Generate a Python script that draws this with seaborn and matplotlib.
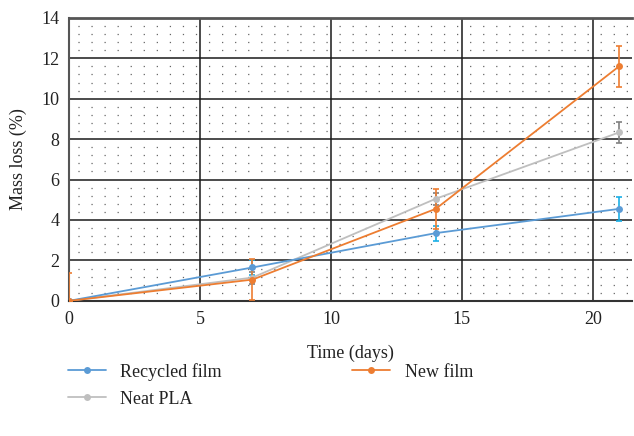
import numpy as np
import pandas as pd
import matplotlib
matplotlib.use("Agg")
import matplotlib.pyplot as plt
import seaborn as sns
from matplotlib.ticker import MultipleLocator
from matplotlib.lines import Line2D

days = [0, 7, 14, 21]
recycled = [0.0, 1.65, 3.35, 4.55]
recycled_err = [0.0, 0.35, 0.37, 0.6]
new_film = [0.0, 1.05, 4.55, 11.6]
new_film_err = [1.4, 1.0, 1.0, 1.0]
neat_pla = [0.0, 1.15, 5.05, 8.33]
neat_pla_err = [0.0, 0.3, 0.3, 0.5]

series_names = ["Recycled film", "New film", "Neat PLA"]
colors = {"Recycled film": "#5B9BD5", "New film": "#ED7D31", "Neat PLA": "#BFBFBF"}
err_colors = {"Recycled film": "#1AAFE6", "New film": "#ED7D31", "Neat PLA": "#808080"}

df = pd.DataFrame({
    "Time": days * 3,
    "Mass": recycled + new_film + neat_pla,
    "Err": recycled_err + new_film_err + neat_pla_err,
    "Series": ["Recycled film"] * 4 + ["New film"] * 4 + ["Neat PLA"] * 4,
})

sns.set_theme(style="white")
plt.rcParams["font.family"] = ["Liberation Serif", "DejaVu Serif"]
plt.rcParams["lines.scale_dashes"] = False

fig = plt.figure(figsize=(6.34, 4.36), dpi=100)
ax = fig.add_axes([0.109, 0.310, 0.888, 0.649])

ax.set_xlim(0, 21.5)
ax.set_ylim(0, 14)
ax.xaxis.set_major_locator(MultipleLocator(5))
ax.yaxis.set_major_locator(MultipleLocator(2))
ax.yaxis.set_minor_locator(MultipleLocator(0.4))
ax.grid(which="major", color="#1a1a1a", linewidth=1.1)
ax.grid(which="minor", axis="y", color="#666666", linewidth=0.9,
        linestyle=(3.0, (0.9, 8.5)))
ax.set_axisbelow(True)

order = ["Neat PLA", "Recycled film", "New film"]
for name in order:
    sub = df[df["Series"] == name]
    ax.errorbar(sub["Time"], sub["Mass"], yerr=sub["Err"], fmt="none",
                ecolor=err_colors[name], elinewidth=1.2, capsize=2.5,
                capthick=1.2, zorder=3)

sns.lineplot(data=df, x="Time", y="Mass", hue="Series", hue_order=order,
             palette=colors, marker="o", markersize=5, markeredgewidth=0,
             linewidth=1.3, ax=ax, legend=False, zorder=4)

ax.spines["right"].set_visible(False)
ax.spines["top"].set_color("#555555")
ax.spines["top"].set_linewidth(2.0)
ax.spines["left"].set_color("#555555")
ax.spines["left"].set_linewidth(1.5)
ax.spines["bottom"].set_color("#333333")
ax.spines["bottom"].set_linewidth(1.5)

fs = 13
ax.tick_params(axis="both", labelsize=fs, colors="#222222", length=0, pad=7)
ax.set_xlabel("Time (days)", fontsize=fs, color="#222222", labelpad=12)
ax.set_ylabel("Mass loss (%)", fontsize=fs, color="#222222", labelpad=10)

legend_order = ["Recycled film", "Neat PLA", "New film"]
handles = [Line2D([], [], color=colors[n], marker="o", markersize=5,
                  markeredgewidth=0, linewidth=1.3) for n in legend_order]
fig.legend(handles, legend_order, ncol=2, loc="upper left",
           bbox_to_anchor=(0.081, 0.205), frameon=False, fontsize=fs,
           handlelength=2.1, columnspacing=7.25, labelspacing=0.55,
           handletextpad=0.8, labelcolor="#222222")

fig.savefig("out.png", dpi=100)
